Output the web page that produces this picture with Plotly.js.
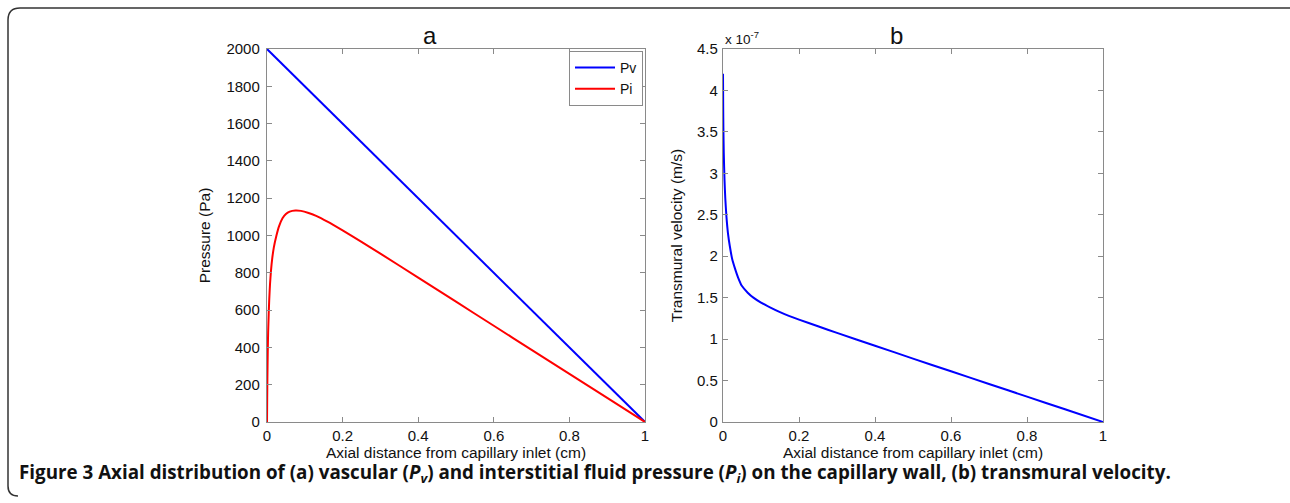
<!DOCTYPE html>
<html>
<head>
<meta charset="utf-8">
<script src="https://cdn.plot.ly/plotly-3.0.1.min.js"></script>
<style>
html,body{margin:0;padding:0;background:#fff;}
#chart{width:1290px;height:503px;}
</style>
</head>
<body>
<div id="chart"></div>
<script>
// ---- data ----
// Panel a: pressures (Pa) vs axial distance (cm)
const pvX = [0, 1];
const pvY = [2000, 0];
const piX = [0, 0.0005, 0.001, 0.002, 0.003, 0.0045, 0.006, 0.008, 0.0105, 0.014, 0.018, 0.025, 0.032, 0.041, 0.05, 0.06, 0.075, 0.09, 0.11, 0.13, 0.16, 0.2, 0.25, 0.3, 0.4, 0.5, 0.6, 0.7, 0.8, 0.9, 1];
const piY = [0, 130, 230, 380, 480, 580, 660, 740, 810, 880, 935, 1000, 1050, 1092, 1115, 1128, 1134, 1132, 1121, 1105, 1074, 1027, 966, 903, 774, 645, 516, 387, 258, 129, 0];
// Panel b: transmural velocity, in units of 1e-7 m/s
const velX = [0, 0.0005, 0.001, 0.002, 0.004, 0.006, 0.009, 0.013, 0.018, 0.024, 0.031, 0.04, 0.05, 0.065, 0.08, 0.1, 0.125, 0.15, 0.175, 0.2, 0.25, 0.3, 0.4, 0.5, 0.6, 0.7, 0.8, 0.9, 1.0];
const velYe7 = [4.2, 3.8, 3.55, 3.25, 2.92, 2.7, 2.48, 2.28, 2.12, 1.97, 1.86, 1.74, 1.64, 1.56, 1.50, 1.44, 1.38, 1.325, 1.277, 1.235, 1.155, 1.075, 0.92, 0.765, 0.612, 0.459, 0.306, 0.153, 0];
const seriesNames = ['Pv', 'Pi'];
const panelTitles = ['a', 'b'];
const xTitle = 'Axial distance from capillary inlet (cm)';
const yTitleA = 'Pressure (Pa)';
const yTitleB = 'Transmural velocity (m/s)';
const caption = '<b>Figure 3</b> <b>Axial distribution of (a) vascular (<i>P</i><sub><i>v</i></sub>) and interstitial fluid pressure (<i>P</i><sub><i>i</i></sub>) on the capillary wall, (b) transmural velocity.</b>';

// ---- layout helpers ----
const W = 1290, H = 503;
const px = v => v / W;
const py = v => 1 - v / H;
const FONT = 'Liberation Sans, Arial, sans-serif';
const axColor = '#8a8a8a';

const axisBase = {
  showline: true, mirror: 'ticks', linecolor: axColor, linewidth: 1.2,
  ticks: 'inside', ticklen: 5, tickcolor: axColor, tickwidth: 1,
  showgrid: false, zeroline: false, automargin: false,
  tickfont: {family: FONT, size: 15, color: '#111'},
  fixedrange: true
};
const titleFont = {family: FONT, size: 15.5, color: '#111'};

const traces = [
  {x: pvX, y: pvY, type: 'scatter', mode: 'lines', name: seriesNames[0],
   line: {color: '#0000ff', width: 2}, xaxis: 'x', yaxis: 'y'},
  {x: piX, y: piY, type: 'scatter', mode: 'lines', name: seriesNames[1],
   line: {color: '#ff0000', width: 2, shape: 'spline', smoothing: 0.5}, xaxis: 'x', yaxis: 'y'},
  {x: velX, y: velYe7, type: 'scatter', mode: 'lines', name: 'velocity', showlegend: false,
   line: {color: '#0000ff', width: 2, shape: 'spline', smoothing: 0.6}, xaxis: 'x2', yaxis: 'y2'}
];

const yDom = [py(422), py(49)];
const layout = {
  width: W, height: H,
  margin: {l: 0, r: 0, t: 0, b: 0},
  paper_bgcolor: '#fff', plot_bgcolor: '#fff',
  font: {family: FONT, color: '#111'},
  showlegend: true,
  legend: {
    x: px(643), y: py(51), xanchor: 'right', yanchor: 'top',
    bordercolor: axColor, borderwidth: 1, bgcolor: '#fff',
    font: {family: FONT, size: 14, color: '#111'},
    tracegroupgap: 0, itemwidth: 40
  },
  xaxis: Object.assign({}, axisBase, {
    domain: [px(267), px(645)], range: [0, 1], dtick: 0.2, tick0: 0, anchor: 'y',
    title: {text: xTitle, font: titleFont, standoff: 0}
  }),
  yaxis: Object.assign({}, axisBase, {
    domain: yDom, range: [0, 2000], dtick: 200, tick0: 0, anchor: 'x', ticklabelstandoff: 3,
    title: {text: yTitleA, font: titleFont, standoff: 12}
  }),
  xaxis2: Object.assign({}, axisBase, {
    domain: [px(723), px(1103)], range: [0, 1], dtick: 0.2, tick0: 0, anchor: 'y2',
    title: {text: xTitle, font: titleFont, standoff: 0}
  }),
  yaxis2: Object.assign({}, axisBase, {
    domain: yDom, range: [0, 4.5], dtick: 0.5, tick0: 0, anchor: 'x2', ticklabelstandoff: 1,
    title: {text: yTitleB, font: titleFont, standoff: 10}
  }),
  annotations: [
    {text: panelTitles[0], xref: 'paper', yref: 'paper', x: px(430), y: py(35),
     yanchor: 'middle', showarrow: false, font: {family: FONT, size: 24, color: '#111'}},
    {text: panelTitles[1], xref: 'paper', yref: 'paper', x: px(905), y: py(35),
     yanchor: 'middle', showarrow: false, font: {family: FONT, size: 24, color: '#111'}},
    {text: 'x 10<sup>-7</sup>', xref: 'paper', yref: 'paper', x: px(723), y: py(38),
     xanchor: 'left', yanchor: 'middle', showarrow: false, font: {family: FONT, size: 13.5, color: '#111'}},
    {text: caption, xref: 'paper', yref: 'paper', x: px(17), y: py(473),
     xanchor: 'left', yanchor: 'middle', showarrow: false, align: 'left',
     font: {family: 'Open Sans, Noto Sans, sans-serif', size: 18.8, color: '#111'}}
  ],
  shapes: [
    {type: 'path', xref: 'paper', yref: 'paper',
     path: 'M ' + px(1290) + ' ' + py(8) + ' L ' + px(20) + ' ' + py(8) +
           ' Q ' + px(8) + ' ' + py(8) + ' ' + px(8) + ' ' + py(20) +
           ' L ' + px(8) + ' ' + py(486) +
           ' Q ' + px(8) + ' ' + py(496) + ' ' + px(18) + ' ' + py(496),
     line: {color: '#333', width: 1.5}}
  ]
};

Plotly.newPlot('chart', traces, layout, {displayModeBar: false, staticPlot: true});
</script>
</body>
</html>
